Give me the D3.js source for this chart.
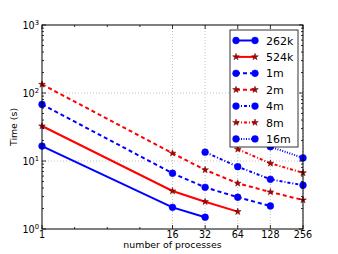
<!DOCTYPE html>
<html><head><meta charset="utf-8">
<script src="https://cdn.jsdelivr.net/npm/d3@7/dist/d3.min.js"></script>
<style>body{margin:0;background:#fff}svg{display:block}text{font-family:"DejaVu Sans",sans-serif}</style>
</head><body><svg id="c" width="338" height="254"></svg>
<script>
const xTicks = [1, 16, 32, 64, 128, 256];
const xMinor = [2, 4, 8];
const yTicks = [1, 10, 100, 1000];
const seriesNames = ["262k", "524k", "1m", "2m", "4m", "8m", "16m"];
const s262k = [[1, 16.6], [16, 2.08], [32, 1.49]];
const s524k = [[1, 32.7], [16, 3.62], [32, 2.52], [64, 1.8]];
const s1m = [[1, 68], [16, 6.6], [32, 4.1], [64, 2.93], [128, 2.18]];
const s2m = [[1, 134], [16, 13], [32, 7.4], [64, 4.7], [128, 3.5], [256, 2.67]];
const s4m = [[32, 13.5], [64, 8.25], [128, 5.38], [256, 4.4]];
const s8m = [[64, 14.9], [128, 9.25], [256, 6.7]];
const s16m = [[128, 16.2], [256, 11.1]];
const seriesData = [s262k, s524k, s1m, s2m, s4m, s8m, s16m];
const styles = [
  {c:"#0000ff", m:"o", d:null},
  {c:"#ff0000", m:"*", d:null},
  {c:"#0000ff", m:"o", d:"4,3"},
  {c:"#ff0000", m:"*", d:"4,3"},
  {c:"#0000ff", m:"o", d:"3,2,1,2"},
  {c:"#ff0000", m:"*", d:"3,2,1,2"},
  {c:"#0000ff", m:"o", d:"1,1.5"}
];

const L=42, R=303, T=25, B=229;
const svg = d3.select("#c");
const x = d3.scaleLog().base(2).domain([1,256]).range([L,R]);
const y = d3.scaleLog().domain([1,1000]).range([B,T]);

// grid
const g = svg.append("g");
xTicks.slice(1).forEach(v=>g.append("line").attr("x1",x(v)).attr("x2",x(v)).attr("y1",T).attr("y2",B)
  .attr("stroke","#b0b0b0").attr("stroke-width",0.8).attr("stroke-dasharray","1,2"));
[10,100].forEach(v=>g.append("line").attr("x1",L).attr("x2",R).attr("y1",y(v)).attr("y2",y(v))
  .attr("stroke","#b0b0b0").attr("stroke-width",0.8).attr("stroke-dasharray","1,2"));

// series
const star = d3.symbol().type(d3.symbolStar).size(14);
const sg = svg.append("g");
const line = d3.line().x(d=>x(d[0])).y(d=>y(d[1]));
function marker(sel, st, px, py){
  if(st.m==="o") sel.append("circle").attr("cx",px).attr("cy",py).attr("r",3.4).attr("fill",st.c).attr("stroke",st.c).attr("stroke-width",0.5);
  else sel.append("path").attr("d",star).attr("transform",`translate(${px},${py})`).attr("fill","#b00000").attr("stroke","#600000").attr("stroke-width",0.5);
}
seriesData.forEach((data,i)=>{
  const st=styles[i];
  sg.append("path").attr("d",line(data)).attr("fill","none").attr("stroke",st.c).attr("stroke-width",2)
    .attr("stroke-dasharray",st.d);
  data.forEach(d=>marker(sg,st,x(d[0]),y(d[1])));
});

// axes frame
svg.append("rect").attr("x",L).attr("y",T).attr("width",R-L).attr("height",B-T).attr("fill","none").attr("stroke","#000").attr("stroke-width",1);

// ticks
const tk = svg.append("g").attr("stroke","#000").attr("stroke-width",0.8);
xTicks.forEach(v=>{tk.append("line").attr("x1",x(v)).attr("x2",x(v)).attr("y1",B).attr("y2",B-4);
  tk.append("line").attr("x1",x(v)).attr("x2",x(v)).attr("y1",T).attr("y2",T+4);});
xMinor.forEach(v=>{tk.append("line").attr("x1",x(v)).attr("x2",x(v)).attr("y1",B).attr("y2",B-2);
  tk.append("line").attr("x1",x(v)).attr("x2",x(v)).attr("y1",T).attr("y2",T+2);});
yTicks.forEach(v=>{tk.append("line").attr("x1",L).attr("x2",L+4).attr("y1",y(v)).attr("y2",y(v));
  tk.append("line").attr("x1",R).attr("x2",R-4).attr("y1",y(v)).attr("y2",y(v));});
for(let e=0;e<3;e++) for(let k=2;k<10;k++){const v=k*Math.pow(10,e);
  tk.append("line").attr("x1",L).attr("x2",L+2).attr("y1",y(v)).attr("y2",y(v));
  tk.append("line").attr("x1",R).attr("x2",R-2).attr("y1",y(v)).attr("y2",y(v));}

// tick labels
xTicks.forEach(v=>svg.append("text").attr("x",x(v)).attr("y",B+8.5).attr("text-anchor","middle")
  .attr("font-size",9.6).text(v));
yTicks.forEach(v=>{const t=svg.append("text").attr("x",L-3).attr("y",y(v)+4).attr("text-anchor","end").attr("font-size",9.6);
  t.append("tspan").text("10");
  t.append("tspan").attr("dy",-4).attr("font-size",6.8).text(Math.round(Math.log10(v)));});
svg.append("text").attr("x",(L+R)/2).attr("y",248).attr("text-anchor","middle").attr("font-size",9.4).text("number of processes");
svg.append("text").attr("transform",`translate(17,${(T+B)/2}) rotate(-90)`).attr("text-anchor","middle").attr("font-size",9.4).text("Time (s)");

// legend
const lg = svg.append("g");
lg.append("rect").attr("x",230).attr("y",30).attr("width",68).attr("height",117).attr("fill","#fff").attr("stroke","#000").attr("stroke-width",0.8);
seriesNames.forEach((n,i)=>{
  const st=styles[i]; const yy=40.5+i*16.4;
  lg.append("line").attr("x1",236).attr("x2",255).attr("y1",yy).attr("y2",yy).attr("stroke",st.c).attr("stroke-width",2).attr("stroke-dasharray",st.d);
  marker(lg,st,236,yy); marker(lg,st,255,yy);
  lg.append("text").attr("x",266).attr("y",yy+4).attr("font-size",11).text(n);
});
</script></body></html>
